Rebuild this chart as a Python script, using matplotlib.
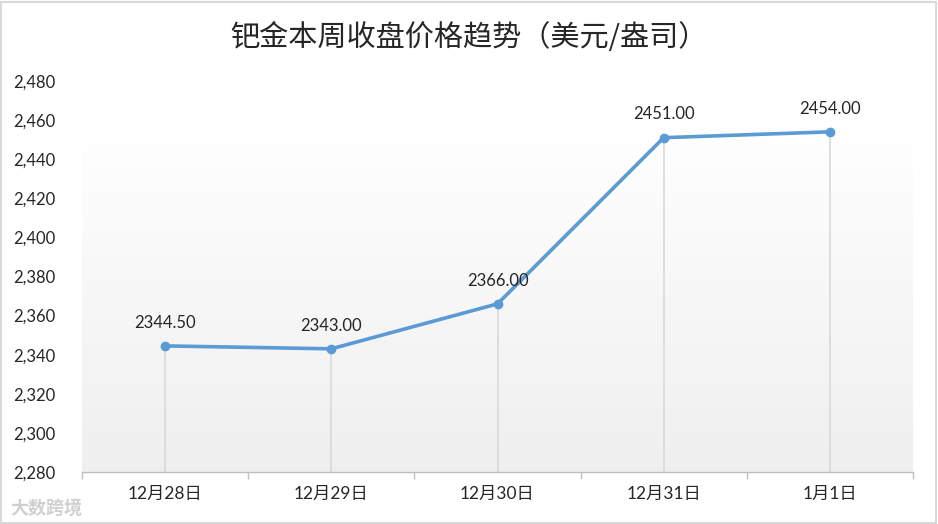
import matplotlib
matplotlib.use("Agg")
import matplotlib.pyplot as plt
import numpy as np
from matplotlib.patches import Rectangle
from matplotlib.colors import LinearSegmentedColormap

plt.rcParams['font.family'] = ['Lato', 'Noto Sans CJK SC', 'DejaVu Sans']

categories = ["12月28日", "12月29日", "12月30日", "12月31日", "1月1日"]
values = [2344.50, 2343.00, 2366.00, 2451.00, 2454.00]
yticks = [2280, 2300, 2320, 2340, 2360, 2380, 2400, 2420, 2440, 2460, 2480]
title = "钯金本周收盘价格趋势（美元/盎司）"

W, H = 938, 524
fig = plt.figure(figsize=(W/100, H/100), dpi=100)
fig.patch.set_facecolor('white')

ax = fig.add_axes([82/W, 1-472/H, (913-82)/W, (472-81)/H])
ax.set_facecolor('none')

n = len(categories)
x = np.arange(n)
ax.set_xlim(-0.5, n-0.5)
ax.set_ylim(2280, 2480)

# gradient background (white at top fading to light gray at bottom)
grad = np.linspace(0, 1, 256).reshape(-1, 1)
cmap = LinearSegmentedColormap.from_list(
    'g', [(0.0, '#efefef'), (0.45, '#f7f7f7'), (0.88, '#ffffff'), (1.0, '#ffffff')])
ax.imshow(grad, aspect='auto', cmap=cmap, origin='lower',
          extent=[-0.5, n-0.5, 2280, 2480], zorder=0)

ax.vlines(x, 2280, values, colors='#d9d9d9', linewidth=1.2, zorder=1)

ax.plot(x, values, color='#5b9bd5', linewidth=2.6, marker='o', markersize=6,
        zorder=3, solid_capstyle='round')

for xi, v in zip(x, values):
    ax.annotate(f"{v:.2f}", (xi, v), xytext=(0, 11), textcoords='offset points',
                ha='center', va='bottom', fontsize=12, color='#262626')

ax.set_yticks(yticks)
ax.set_yticklabels([f"{t:,}" for t in yticks], fontsize=12, color='#262626')
ax.set_xticks(x)
ax.set_xticklabels(categories, fontsize=12.5, color='#262626')
ax.tick_params(axis='y', length=0)
ax.tick_params(axis='x', length=0, pad=10)
ax.set_xticks(np.arange(-0.5, n, 1), minor=True)
ax.tick_params(axis='x', which='minor', length=5, color='#bfbfbf', width=1)

for s in ['top', 'right', 'left']:
    ax.spines[s].set_visible(False)
ax.spines['bottom'].set_color('#bfbfbf')
ax.spines['bottom'].set_linewidth(1)

tr = matplotlib.transforms.blended_transform_factory(fig.transFigure, ax.transData)
for lab, t in zip(ax.get_yticklabels(), yticks):
    lab.set_horizontalalignment('left')
    lab.set_transform(tr)
    lab.set_position((13/W, t))

fig.text(0.5, 1-38/H, title, ha='center', va='center', fontsize=21,
         color='#262626', family=['Noto Sans CJK SC', 'DejaVu Sans'], fontweight='light')

fig.text(10/W, 1-508/H, "大数跨境", ha='left', va='center', fontsize=13,
         color='#d0d0d0', family=['Noto Sans CJK SC', 'DejaVu Sans'], fontweight='bold')

fig.patches.append(Rectangle((1/W, 1/H), 1-3/W, 1-3/H, transform=fig.transFigure,
                             fill=False, edgecolor='#d9d9d9', linewidth=1.5))

fig.savefig('out.png', dpi=100)
